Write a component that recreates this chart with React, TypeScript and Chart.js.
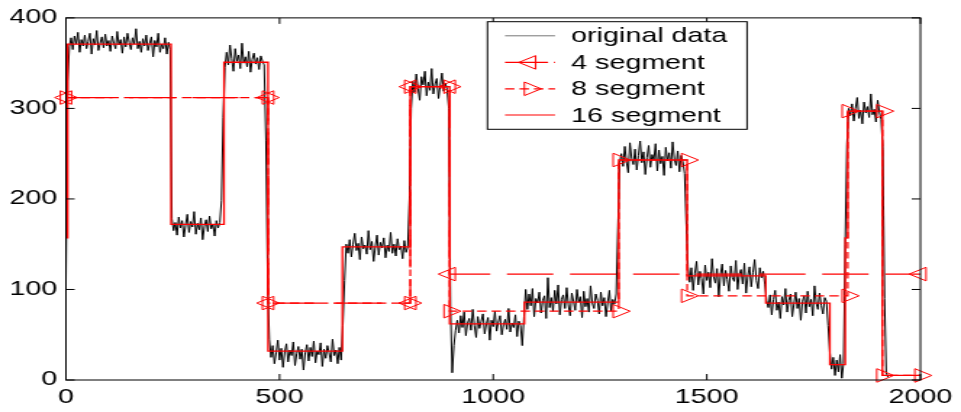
import React, { useEffect, useRef } from "react";
import { Chart, registerables } from "chart.js";

Chart.register(...registerables);

// ---------- data ----------
const SAMPLE_STEP = 4; // original data read every 4 samples, starting at 0

const origSeg1 = [108, 330, 368, 378, 365, 380, 371, 384, 362, 376, 369, 381, 366, 374, 383, 360, 377, 370, 386, 364, 372, 379, 367, 382, 369, 375, 363, 380, 372, 366, 385, 370, 376, 361, 379, 368, 383, 373, 365, 378, 371, 388, 366, 374, 362, 377, 369, 381, 364, 372, 379, 357, 375, 368, 383, 362, 371, 366, 378, 360, 373, 365];
const origSeg2 = [178, 165, 174, 160, 180, 168, 176, 158, 171, 183, 163, 175, 169, 186, 161, 173, 166, 179, 155, 170, 177, 164, 181, 167, 172, 159, 176, 168, 174, 198, 290, 345];
const origSeg3 = [362, 348, 370, 355, 341, 366, 352, 359, 344, 372, 350, 357, 346, 363, 340, 354, 361, 349, 356, 343, 358, 352, 348, 265, 110, 45];
const origSeg4 = [25, 38, 18, 30, 44, 22, 35, 14, 31, 40, 20, 33, 27, 42, 16, 29, 37, 23, 34, 11, 30, 39, 21, 36, 26, 43, 19, 32, 28, 41, 15, 34, 24, 38, 30, 20, 45, 27, 33, 18, 36, 22, 60, 110, 150];
const origSeg5 = [140, 155, 136, 150, 162, 143, 151, 133, 158, 145, 149, 139, 165, 144, 153, 131, 147, 160, 138, 152, 146, 157, 135, 149, 142, 163, 140, 150, 137, 156, 144, 148, 134, 154, 141, 147, 200, 300];
const origSeg6 = [330, 318, 338, 322, 309, 335, 326, 341, 314, 329, 320, 344, 316, 327, 333, 311, 325, 339, 319, 328, 321, 300, 80, 8, 38, 55];
const origSeg7 = [66, 52, 71, 58, 75, 49, 63, 68, 55, 78, 60, 47, 70, 57, 65, 73, 51, 62, 69, 44, 66, 59, 76, 54, 64, 71, 50, 61, 67, 56, 79, 53, 63, 58, 72, 48, 65, 60, 38, 70, 100];
const origSeg8 = [78, 95, 82, 101, 70, 90, 85, 97, 74, 88, 93, 68, 113, 80, 91, 76, 99, 84, 105, 72, 89, 94, 79, 102, 83, 71, 96, 87, 77, 100, 86, 92, 69, 98, 81, 90, 75, 104, 85, 79, 95, 88, 73, 97, 82, 91, 70, 86, 99, 76, 89, 84, 95, 170, 240];
const origSeg9 = [250, 236, 258, 241, 229, 262, 245, 238, 255, 232, 248, 264, 240, 252, 227, 246, 259, 235, 249, 243, 261, 231, 254, 239, 247, 226, 257, 242, 251, 234, 263, 244, 237, 253, 230, 248, 241, 228, 170, 125];
const origSeg10 = [108, 124, 99, 118, 131, 105, 120, 112, 95, 127, 110, 119, 102, 134, 114, 107, 123, 92, 116, 128, 104, 121, 111, 98, 126, 113, 109, 132, 100, 117, 122, 106, 129, 96, 115, 125, 103, 119, 133, 110, 101, 124, 113, 120, 105, 88];
const origSeg11 = [80, 94, 72, 89, 99, 77, 86, 68, 92, 83, 101, 75, 88, 95, 70, 84, 97, 79, 90, 66, 87, 93, 74, 98, 81, 89, 71, 104, 85, 78, 96, 82, 73, 91, 87, 60, 30];
const origSeg12 = [12, 25, 5, 22, 9, 28, 2, 18, 150, 260, 300];
const origSeg13 = [292, 305, 286, 300, 312, 289, 298, 283, 307, 295, 302, 290, 316, 293, 299, 285, 309, 296, 288, 255, 90, 8, 3];

const ORIGINAL_PIECES = [origSeg1, origSeg2, origSeg3, origSeg4, origSeg5, origSeg6, origSeg7, origSeg8, origSeg9, origSeg10, origSeg11, origSeg12, origSeg13];

// piecewise-constant approximations: boundaries (x) and levels (y)
const SEG4_BREAKS = [0, 473, 806, 898, 2000];
const SEG4_LEVELS = [312, 85, 324, 117];

const SEG8_BREAKS = [0, 473, 806, 898, 1294, 1454, 1830, 1911, 2000];
const SEG8_LEVELS = [312, 85, 324, 76, 243, 93, 297, 5];

const SEG16_BREAKS = [0, 4, 246, 370, 473, 647, 806, 898, 1073, 1294, 1454, 1638, 1788, 1824, 1830, 1911, 2000];
const SEG16_LEVELS = [157, 371, 172, 351, 32, 147, 324, 62, 86, 243, 115, 85, 17, 157, 297, 5];

const X_TICKS = [0, 500, 1000, 1500, 2000];
const Y_TICKS = [0, 100, 200, 300, 400];
const LEGEND_LABELS = ["original data", "4 segment", "8 segment", "16 segment"];

// ---------- layout / style ----------
const CANVAS_W = 663;
const CANVAS_H = 412;
const DISPLAY_W = 961;
const FONT_FAMILY = '"Liberation Sans", Arial, Helvetica, sans-serif';
const FONT_SIZE = 19.8;
const RED = "#ff0000";
const DASH4 = [32, 11.5];
const DASH8 = [6.5, 3.5];
const MARKER_R = 7.8;

function segmentPoints(breaks: number[], levels: number[]) {
  const pts: { x: number; y: number }[] = [];
  levels.forEach((lv, i) => {
    pts.push({ x: breaks[i], y: lv });
    pts.push({ x: breaks[i + 1], y: lv });
  });
  return pts;
}

function originalPoints() {
  const flat: number[] = ([] as number[]).concat(...ORIGINAL_PIECES);
  return flat.map((v, i) => ({ x: i * SAMPLE_STEP, y: v }));
}

function drawTriangle(ctx: CanvasRenderingContext2D, x: number, y: number, r: number, rotDeg: number) {
  let rad = (rotDeg * Math.PI) / 180;
  ctx.beginPath();
  ctx.moveTo(x + Math.sin(rad) * r, y - Math.cos(rad) * r);
  rad += (2 * Math.PI) / 3;
  ctx.lineTo(x + Math.sin(rad) * r, y - Math.cos(rad) * r);
  rad += (2 * Math.PI) / 3;
  ctx.lineTo(x + Math.sin(rad) * r, y - Math.cos(rad) * r);
  ctx.closePath();
  ctx.stroke();
}

const framePlugin = {
  id: "frameAndLegend",
  afterDraw(chart: any) {
    const ctx: CanvasRenderingContext2D = chart.ctx;
    const { left, right, top, bottom } = chart.chartArea;
    const xs = chart.scales.x;
    const ys = chart.scales.y;
    const TL = 6;
    ctx.save();
    ctx.strokeStyle = "#000";
    ctx.lineWidth = 1;
    ctx.setLineDash([]);
    ctx.strokeRect(left, top, right - left, bottom - top);
    ctx.beginPath();
    X_TICKS.forEach((v) => {
      const px = xs.getPixelForValue(v);
      ctx.moveTo(px, bottom);
      ctx.lineTo(px, bottom - TL);
      ctx.moveTo(px, top);
      ctx.lineTo(px, top + TL);
    });
    Y_TICKS.forEach((v) => {
      const py = ys.getPixelForValue(v);
      ctx.moveTo(left, py);
      ctx.lineTo(left + TL, py);
      ctx.moveTo(right, py);
      ctx.lineTo(right - TL, py);
    });
    ctx.stroke();

    // legend box
    const bx = 336.3, by = 21.7, bw = 179.1, bh = 107.6;
    ctx.fillStyle = "#fff";
    ctx.fillRect(bx, by, bw, bh);
    ctx.strokeStyle = "#000";
    ctx.lineWidth = 1;
    ctx.strokeRect(bx, by, bw, bh);

    const rowY = [35.8, 62.4, 88.8, 115.0];
    const lx0 = 348.4, lx1 = 382.9, lxc = (lx0 + lx1) / 2;
    const tx = 394;
    rowY.forEach((ry, i) => {
      ctx.save();
      ctx.lineWidth = i === 0 ? 1 : 1.2;
      if (i === 0) {
        ctx.strokeStyle = "#777";
        ctx.setLineDash([]);
      } else {
        ctx.strokeStyle = RED;
        ctx.setLineDash(i === 1 ? [29.7, 4, 1.5, 4] : i === 2 ? DASH8 : []);
      }
      ctx.beginPath();
      ctx.moveTo(lx0, ry);
      ctx.lineTo(lx1, ry);
      ctx.stroke();
      ctx.setLineDash([]);
      ctx.lineWidth = 1;
      if (i === 1) drawTriangle(ctx, lxc, ry, MARKER_R, -90);
      if (i === 2) drawTriangle(ctx, lxc, ry, MARKER_R, 90);
      ctx.restore();
      ctx.fillStyle = "#000";
      ctx.font = `${FONT_SIZE}px ${FONT_FAMILY}`;
      ctx.textAlign = "left";
      ctx.textBaseline = "alphabetic";
      ctx.fillText(LEGEND_LABELS[i], tx, ry + 6.5);
    });
    ctx.restore();
  },
};

export default function App() {
  const canvasRef = useRef<HTMLCanvasElement | null>(null);

  useEffect(() => {
    const canvas = canvasRef.current;
    if (!canvas) return;
    const tickFont = { family: FONT_FAMILY, size: FONT_SIZE };
    const chart = new Chart(canvas, {
      type: "line",
      data: {
        datasets: [
          {
            label: LEGEND_LABELS[3],
            data: segmentPoints(SEG16_BREAKS, SEG16_LEVELS),
            borderColor: RED,
            borderWidth: 1.3,
            pointRadius: 0,
            tension: 0,
            fill: false,
            order: 1,
          },
          {
            label: LEGEND_LABELS[2],
            data: segmentPoints(SEG8_BREAKS, SEG8_LEVELS),
            borderColor: RED,
            borderWidth: 1.2,
            borderDash: DASH8,
            pointStyle: "triangle",
            pointRotation: 90,
            pointRadius: MARKER_R,
            pointBorderColor: RED,
            pointBackgroundColor: "rgba(0,0,0,0)",
            pointBorderWidth: 1,
            tension: 0,
            fill: false,
            clip: false,
            order: 2,
          },
          {
            label: LEGEND_LABELS[1],
            data: segmentPoints(SEG4_BREAKS, SEG4_LEVELS),
            borderColor: RED,
            borderWidth: 1.2,
            borderDash: DASH4,
            pointStyle: "triangle",
            pointRotation: -90,
            pointRadius: MARKER_R,
            pointBorderColor: RED,
            pointBackgroundColor: "rgba(0,0,0,0)",
            pointBorderWidth: 1,
            tension: 0,
            fill: false,
            clip: false,
            order: 3,
          },
          {
            label: LEGEND_LABELS[0],
            data: originalPoints(),
            borderColor: "#000",
            borderWidth: 1,
            pointRadius: 0,
            tension: 0,
            fill: false,
            order: 4,
          },
        ],
      },
      options: {
        responsive: false,
        animation: false,
        devicePixelRatio: 1,
        events: [],
        layout: { padding: { left: 0, top: 16, right: 21.6, bottom: 0 } },
        plugins: { legend: { display: false }, tooltip: { enabled: false } },
        scales: {
          x: {
            type: "linear",
            min: 0,
            max: 2000,
            grid: { display: false, drawTicks: false },
            border: { display: false },
            ticks: {
              stepSize: 500,
              padding: 6,
              color: "#000",
              font: tickFont,
              maxRotation: 0,
              autoSkip: false,
              callback: (v: any) => String(v),
            },
            afterFit: (s: any) => {
              s.height = 32;
            },
          },
          y: {
            type: "linear",
            min: 0,
            max: 400,
            grid: { display: false, drawTicks: false },
            border: { display: false },
            ticks: {
              stepSize: 100,
              padding: 6,
              color: "#000",
              font: tickFont,
              callback: (v: any) => String(v),
            },
            afterFit: (s: any) => {
              s.width = 45.5;
            },
          },
        },
      },
      plugins: [framePlugin],
    } as any);
    return () => chart.destroy();
  }, []);

  return (
    <div style={{ position: "absolute", left: 0, top: 0, width: DISPLAY_W, height: CANVAS_H, background: "#fff" }}>
      <canvas
        ref={canvasRef}
        width={CANVAS_W}
        height={CANVAS_H}
        style={{ width: `${DISPLAY_W}px`, height: `${CANVAS_H}px`, display: "block" }}
      />
    </div>
  );
}
